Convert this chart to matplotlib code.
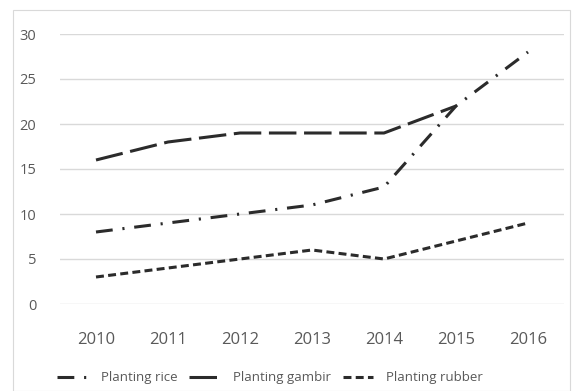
import numpy as np
import matplotlib.pyplot as plt
from matplotlib.patches import Rectangle

years = ['2010', '2011', '2012', '2013', '2014', '2015', '2016']
rice = [8, 9, 10, 11, 13, 22, 28]
gambir = [16, 18, 19, 19, 19, 22, np.nan]
rubber = [3, 4, 5, 6, 5, 7, 9]

plt.rcParams['font.family'] = ['Open Sans', 'DejaVu Sans']
GREY = '#595959'
INK = '#2b2b2b'

fig = plt.figure(figsize=(5.77, 3.91), dpi=100)
fig.patches.append(Rectangle((13 / 577, 0), 557 / 577, 1 - 10 / 391,
                             transform=fig.transFigure, fill=False,
                             edgecolor='#d9d9d9', linewidth=0.8))
ax = fig.add_axes([60 / 577, 1 - 304 / 391, 504 / 577, 270 / 391])

x = range(len(years))
ax.plot(x, rice, color=INK, lw=2.2, dashes=(5.5, 3.2, 0.7, 3.2), label='Planting rice')
ax.plot(x, gambir, color=INK, lw=2.2, dashes=(9, 2.5), label='Planting gambir')
ax.plot(x, rubber, color=INK, lw=2.2, dashes=(2.6, 1.4), label='Planting rubber')

ax.set_xlim(-0.5, len(years) - 0.5)
ax.set_ylim(0, 30)
ax.set_yticks(range(0, 31, 5))
ax.set_xticks(list(x))
ax.set_xticklabels(years)
ax.grid(axis='y', color='#d9d9d9', lw=1)
ax.set_axisbelow(True)
for s in ax.spines.values():
    s.set_visible(False)
ax.tick_params(axis='y', length=0, pad=17, labelsize=10.5, labelcolor=GREY)
ax.tick_params(axis='x', length=0, pad=20, labelsize=12, labelcolor=GREY)

leg = fig.legend(loc='center', bbox_to_anchor=(270 / 577, 1 - 378 / 391), ncol=3,
                 frameon=False, fontsize=9.5, labelcolor=GREY,
                 handlelength=2.3, columnspacing=0.9, handletextpad=1.0)

plt.savefig('out.png', dpi=100)
